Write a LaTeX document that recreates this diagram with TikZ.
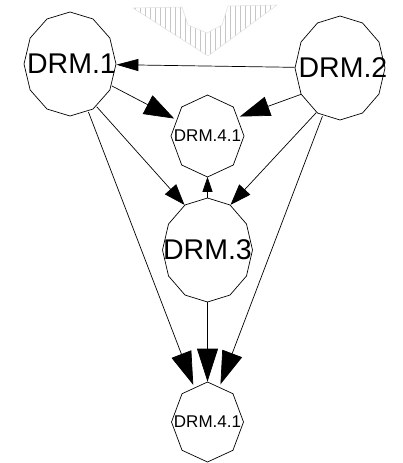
\documentclass[tikz,border=0pt]{standalone}
\usepackage{fontspec}
\setmainfont{Liberation Sans}
\usetikzlibrary{shapes.geometric,arrows.meta,patterns.meta}

\begin{document}
\begin{tikzpicture}[
  x=1pt, y=-1pt, line width=0.7pt,
  drm/.style={ellipse, inner sep=0pt,
              minimum width=90pt, minimum height=104pt,
              font=\fontsize{28.5}{30}\selectfont},
  sub/.style={ellipse, inner sep=0pt,
              minimum width=73pt, minimum height=81pt,
              font=\fontsize{17}{18}\selectfont},
  arr/.style 2 args={-{Triangle[length=#1,width=#2]}},
  hatch/.style={draw=gray!25, line width=0.5pt,
                pattern={Lines[angle=90,distance=5pt,line width=0.6pt]},
                pattern color=gray!45}
]
\useasboundingbox (0,0) rectangle (403,463);

% hatched mark at the top
\path[hatch] (133,8) -- (182,7) -- (188,25) -- (207,33) -- (222,25)
  -- (228,6) -- (277,5) -- (208,56) -- cycle;

\node[drm, minimum width=92pt] (d1) at (70,64) {\makebox[0pt]{\hspace{3pt}DRM.1}};
\node[drm] (d2) at (340,68) {\makebox[0pt]{\hspace{6pt}DRM.2}};
\node[sub] (t) at (207.5,136) {\makebox[0pt]{DRM.4.1}};
\node[drm] (d3) at (207.5,250) {\makebox[0pt]{DRM.3}};
\node[sub, minimum width=72pt, minimum height=80pt] (b) at (207.5,422) {\makebox[0pt]{DRM.4.1}};

% polygon outlines
\foreach \n/\k/\rx/\ry in {d1/13/46/52, d2/13/45/52, d3/13/45/52, t/9/36.5/41, b/9/36/40}
  \draw[shift={(\n.center)}] plot[domain=90:450, samples=\k] ({\rx*cos(\x)},{\ry*sin(\x)});

\draw[arr={22pt}{12pt}] (d2) -- (d1);
\draw[arr={30pt}{21pt}] (d1) -- (t);
\draw[arr={30pt}{20pt}] (d2.214) -- (t.31);
\draw[arr={21pt}{15pt}] (d1.302) -- (d3.117);
\draw[arr={21pt}{15pt}] (d2.242) -- (d3.63);
\draw[arr={15pt}{10pt}] (d3) -- (t);
\draw[arr={33pt}{21pt}] (d1.291) -- (b.111);
\draw[arr={33pt}{21pt}] (d3) -- (b);
\draw[arr={33pt}{21pt}] (d2.250) -- (b.71);

\end{tikzpicture}
\end{document}
